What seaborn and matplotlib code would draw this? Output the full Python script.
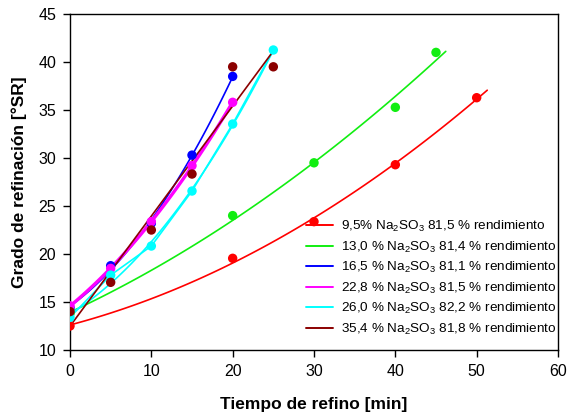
import matplotlib
matplotlib.use("Agg")
import matplotlib.pyplot as plt
import seaborn as sns
import pandas as pd

sns.set_theme(style="white")
plt.rcParams['font.family'] = ['Liberation Sans', 'DejaVu Sans']
plt.rcParams['mathtext.fontset'] = 'custom'
plt.rcParams['mathtext.rm'] = 'Liberation Sans'
plt.rcParams['mathtext.it'] = 'Liberation Sans:italic'
plt.rcParams['mathtext.bf'] = 'Liberation Sans:bold'
plt.rcParams['text.color'] = 'black'
plt.rcParams['axes.labelcolor'] = 'black'

# ---- data ----
labels = [
    r"9,5% Na$_2$SO$_3$ 81,5 % rendimiento",
    r"13,0 % Na$_2$SO$_3$ 81,4 % rendimiento",
    r"16,5 % Na$_2$SO$_3$ 81,1 % rendimiento",
    r"22,8 % Na$_2$SO$_3$ 81,5 % rendimiento",
    r"26,0 % Na$_2$SO$_3$ 82,2 % rendimiento",
    r"35,4 % Na$_2$SO$_3$ 81,8 % rendimiento",
]
t_red = [0, 20, 30, 40, 50]
y_red = [12.5, 19.55, 23.37, 29.3, 36.28]
t_green = [0, 20, 30, 40, 45]
y_green = [13.8, 24.0, 29.5, 35.28, 41.0]
t_blue = [0, 5, 10, 15, 20]
y_blue = [14.4, 18.78, 23.2, 30.3, 38.5]
t_magenta = [0, 5, 10, 15, 20]
y_magenta = [14.6, 18.5, 23.37, 29.2, 35.8]
t_cyan = [0, 5, 10, 15, 20, 25]
y_cyan = [13.4, 17.8, 20.83, 26.56, 33.54, 41.25]
t_dred = [0, 5, 10, 15, 20, 25]
y_dred = [14.0, 17.05, 22.5, 28.33, 39.5, 39.5]

# fitted-curve drawing range end (minutes)
fit_end = [51.3, 46.2, 20, 20, 25, 25]

colors = ['#ff0000', '#11ee11', '#0000ff', '#ff00ff', '#00ffff', '#8b0000']
series = [(t_red, y_red), (t_green, y_green), (t_blue, y_blue),
          (t_magenta, y_magenta), (t_cyan, y_cyan), (t_dred, y_dred)]
orders = [2, 2, 2, 2, 2, 1]
widths = [1.2, 1.2, 1.2, 2.4, 1.2, 1.2]

fig = plt.figure(figsize=(5.68, 4.17), dpi=100)
ax = fig.add_axes([70/568, 1-350/417, 488/568, 336/417])

handles = []
for (t, y), c, lab, o, w, e in zip(series, colors, labels, orders, widths, fit_end):
    df = pd.DataFrame({"t": t, "y": y})
    ax.set_xlim(0, e)
    sns.regplot(data=df, x="t", y="y", order=o, ci=None, scatter=False,
                truncate=False, ax=ax, color=c, line_kws={"lw": w}, label=lab)
    handles.append(ax.lines[-1])
    if c == '#00ffff':
        sns.lineplot(data=df, x="t", y="y", ax=ax, color=c, lw=1.2)
    sns.scatterplot(data=df, x="t", y="y", ax=ax, color=c, s=46,
                    edgecolor='none', zorder=3)

ax.set_xlim(0, 60)
ax.set_ylim(10, 45)
ax.set_xticks(range(0, 61, 10))
ax.set_yticks(range(10, 46, 5))
ax.tick_params(axis='both', direction='out', length=5, width=1, color='black',
               bottom=True, left=True, top=False, right=False,
               labelsize=11.5, labelcolor='black', pad=5)
for s in ax.spines.values():
    s.set_color('black')
    s.set_linewidth(1)

ax.set_xlabel("Tiempo de refino [min]", fontsize=12.5, fontweight='bold', labelpad=13)
ax.set_ylabel("Grado de refinación [°SR]", fontsize=12.5, fontweight='bold', labelpad=8)

leg = ax.legend(handles=handles, labels=labels, loc='lower right',
                bbox_to_anchor=(1.012, 0.018), frameon=False, fontsize=9.7,
                handlelength=2.0, handletextpad=0.6, labelspacing=0.4,
                borderaxespad=0.15)
for ln in leg.get_lines():
    ln.set_linewidth(1.4)

fig.savefig("out.png", dpi=100)
